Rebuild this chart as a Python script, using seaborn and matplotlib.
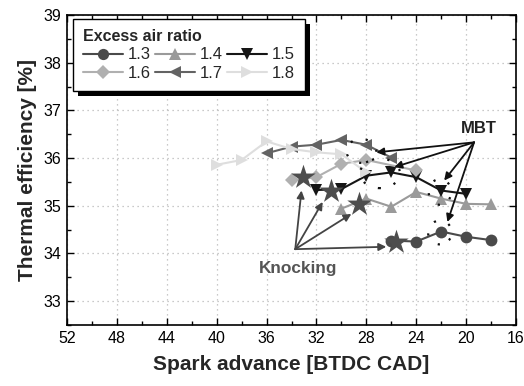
import numpy as np
import pandas as pd
import matplotlib
matplotlib.use("Agg")
import matplotlib.pyplot as plt
import seaborn as sns
from matplotlib.lines import Line2D
from matplotlib.patches import Ellipse, Rectangle
from matplotlib.ticker import MultipleLocator
from matplotlib.transforms import IdentityTransform

# ---------------- data ----------------
ratios = ["1.3", "1.4", "1.5", "1.6", "1.7", "1.8"]

x_13 = [26, 24, 22, 20, 18]
y_13 = [34.27, 34.25, 34.46, 34.35, 34.28]

x_14 = [30, 28, 26, 24, 22, 20, 18]
y_14 = [34.94, 35.15, 34.98, 35.29, 35.15, 35.04, 35.03]

x_15 = [32, 30, 28, 26, 24, 22, 20]
y_15 = [35.33, 35.35, 35.63, 35.70, 35.60, 35.32, 35.25]

x_16 = [34, 32, 30, 28, 24]
y_16 = [35.53, 35.60, 35.88, 35.96, 35.74]

x_17 = [36, 34, 32, 30, 28, 26]
y_17 = [36.10, 36.24, 36.28, 36.38, 36.28, 36.01]

x_18 = [40, 38, 36, 34, 32, 30, 28]
y_18 = [35.86, 35.96, 36.35, 36.19, 36.12, 36.08, 35.70]

knock_x = [25.6, 28.6, 30.8, 33.1]
knock_y = [34.25, 35.04, 35.32, 35.60]

xs = [x_13, x_14, x_15, x_16, x_17, x_18]
ys = [y_13, y_14, y_15, y_16, y_17, y_18]

colors = {"1.3": "#4a4a4a", "1.4": "#9a9a9a", "1.5": "#161616",
          "1.6": "#b0b0b0", "1.7": "#636363", "1.8": "#dedede"}
markers = {"1.3": "o", "1.4": "^", "1.5": "v", "1.6": "D", "1.7": "<", "1.8": ">"}
msizes = {"1.3": 8.5, "1.4": 9, "1.5": 9, "1.6": 7, "1.7": 9, "1.8": 9}

df = pd.concat([pd.DataFrame({"sa": x, "eff": y, "ratio": r})
                for r, x, y in zip(ratios, xs, ys)], ignore_index=True)
knock = pd.DataFrame({"sa": knock_x, "eff": knock_y})

# ---------------- style ----------------
sns.set_style("ticks")
plt.rcParams["font.family"] = ["Liberation Sans", "DejaVu Sans"]

fig = plt.figure(figsize=(5.24, 3.86), dpi=100)
ax = fig.add_axes([67 / 524, 1 - 325 / 386, 449 / 524, 310 / 386])

for r in ratios:
    sub = df[df["ratio"] == r]
    sns.lineplot(data=sub, x="sa", y="eff", ax=ax, color=colors[r],
                 marker=markers[r], markersize=msizes[r], markeredgewidth=0,
                 linewidth=1.5, sort=False, legend=False, zorder=3)

sns.scatterplot(data=knock, x="sa", y="eff", ax=ax, marker="*", s=340,
                color="#4d4d4d", edgecolor="#4d4d4d", linewidth=0, zorder=4,
                legend=False)

ax.set_xlim(52, 16)
ax.set_ylim(32.5, 39)
ax.xaxis.set_major_locator(MultipleLocator(4))
ax.xaxis.set_minor_locator(MultipleLocator(2))
ax.yaxis.set_major_locator(MultipleLocator(1))
ax.yaxis.set_minor_locator(MultipleLocator(0.5))
ax.set_yticks([33, 34, 35, 36, 37, 38, 39])
ax.tick_params(which="both", direction="in", top=True, right=True,
               labelsize=11.5, colors="black")
ax.tick_params(which="major", length=5, width=1, pad=4)
ax.tick_params(which="minor", length=3, width=1)
for sp in ax.spines.values():
    sp.set_linewidth(1.2)
    sp.set_color("black")
ax.grid(True, which="major", linestyle=(0, (1, 3)), color="#b8b8b8", linewidth=0.9)
ax.set_axisbelow(True)

ax.set_xlabel("Spark advance [BTDC CAD]", fontsize=15, fontweight="bold", labelpad=7)
ax.set_ylabel("Thermal efficiency [%]", fontsize=15, fontweight="bold", labelpad=5)

# ---------------- annotations ----------------
# Knocking
ax.text(33.44, 33.68, "Knocking", fontsize=12.4, fontweight="bold", color="#555555",
        ha="center", va="center", zorder=6)
k_origin = (33.7, 34.09)
k_tips = [(33.2, 35.32), (31.5, 35.08), (29.2, 34.83), (26.4, 34.14)]
for t in k_tips:
    ax.annotate("", xy=t, xytext=k_origin,
                arrowprops=dict(arrowstyle="-|>", color="#444444", lw=1.3,
                                mutation_scale=11, shrinkA=0, shrinkB=0), zorder=5)

# MBT
ax.text(18.96, 36.62, "MBT", fontsize=12, fontweight="bold", color="#222222",
        ha="center", va="center", zorder=6)
m_origin = (19.36, 36.33)
m_tips = [(27.2, 36.12), (25.76, 35.81), (21.76, 35.53), (21.5, 34.66)]
for t in m_tips:
    ax.annotate("", xy=t, xytext=m_origin,
                arrowprops=dict(arrowstyle="-|>", color="#111111", lw=1.3,
                                mutation_scale=11, shrinkA=0, shrinkB=0), zorder=5)

ellipses = [((26.9, 35.68), 3.2, 0.62), ((28.4, 36.15), 2.4, 0.5),
            ((22.1, 35.29), 1.8, 0.54), ((22.1, 34.44), 1.9, 0.5)]
for c, w, h in ellipses:
    ax.add_patch(Ellipse(c, w, h, fill=False, edgecolor="#111111",
                         linestyle=(0, (1, 6)), linewidth=1.6, zorder=5))

# ---------------- legend ----------------
order = ["1.3", "1.6", "1.4", "1.7", "1.5", "1.8"]
handles = [Line2D([], [], color=colors[r], marker=markers[r],
                  markersize=msizes[r] * 0.95, markeredgewidth=0, linewidth=1.5)
           for r in order]
leg = ax.legend(handles, order, ncol=3, loc="upper left",
                bbox_to_anchor=(0.013, 0.987), borderaxespad=0,
                title="Excess air ratio", alignment="left",
                title_fontproperties={"weight": "bold", "size": 11.5},
                fontsize=12, frameon=True, fancybox=False, framealpha=1,
                edgecolor="black", handlelength=2.4, handletextpad=0.3,
                columnspacing=0.25, labelspacing=0.2, borderpad=0.6)
leg.get_frame().set_linewidth(1.0)
leg.set_zorder(10)

fig.canvas.draw()
bb = leg.get_window_extent()
shadow = Rectangle((bb.x0 + 5, bb.y0 - 5), bb.width, bb.height,
                   transform=IdentityTransform(), facecolor="black",
                   edgecolor="none", zorder=9)
ax.add_artist(shadow)

fig.savefig("out.png", dpi=100)
